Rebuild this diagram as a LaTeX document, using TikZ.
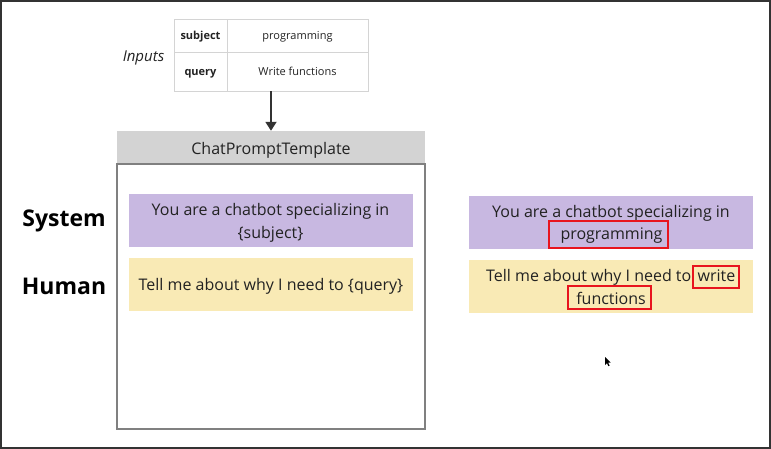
\documentclass[tikz,border=0pt]{standalone}
\usepackage{fontspec}
\setmainfont{Open Sans}
\usetikzlibrary{arrows.meta}
\definecolor{txt}{HTML}{222222}
\definecolor{frame}{HTML}{333333}
\definecolor{tblline}{HTML}{D4D4D4}
\definecolor{hdrgray}{HTML}{D3D3D3}
\definecolor{boxgray}{HTML}{808080}
\definecolor{sysfill}{HTML}{C8B8E1}
\definecolor{humfill}{HTML}{F9EAB5}
\definecolor{hlred}{HTML}{E8141E}
\tikzset{
  cell/.style={draw=tblline, line width=0.8pt, inner sep=0pt, text=txt, text height=9pt, text depth=0pt,
               font=\fontsize{11}{13}\selectfont},
  keycell/.style={cell, minimum width=53pt, font=\fontsize{11}{13}\selectfont\bfseries},
  valcell/.style={cell, minimum width=141pt},
  msgtext/.style={text=txt, font=\fontsize{16}{19}\selectfont, inner sep=0pt, anchor=base},
  rolelabel/.style={text=black, font=\fontsize{23}{27}\selectfont\bfseries, inner sep=0pt, anchor=base},
  sysbox/.style={fill=sysfill, inner sep=0pt, minimum width=284pt, minimum height=53pt},
  humbox/.style={fill=humfill, inner sep=0pt, minimum width=284pt, minimum height=53pt},
  hlbox/.style={draw=hlred, line width=1.8pt, inner sep=0pt},
}
\begin{document}
\begin{tikzpicture}[x=1pt,y=-1pt]
\useasboundingbox (0,0) rectangle (771,449);
% outer frame
\draw[frame, line width=1.6pt] (0.8,0.8) rectangle (769.8,448);

% inputs table
\node[keycell, minimum height=33pt] (k1) at (200.5,35.5) {subject};
\node[valcell, minimum height=33pt] (v1) at (297.5,35.5) {programming};
\node[keycell, minimum height=39pt] (k2) at (200.5,71.5) {query};
\node[valcell, minimum height=39pt] (v2) at (297.5,71.5) {Write functions};
\node[inner sep=0pt, minimum width=194pt, minimum height=72pt] (tbl) at (271,55) {};
\node[text=txt, font=\fontsize{15}{18}\selectfont\itshape, inner sep=0pt, anchor=base] (inp) at (143.5,61.5) {Inputs};

% template
\node[fill=hdrgray, inner sep=0pt, minimum width=308pt, minimum height=33pt] (hdr) at (271,147.5) {};
\node[msgtext] (hdrt) at (271,154.5) {ChatPromptTemplate};
\node[draw=boxgray, line width=1.6pt, inner sep=0pt, minimum width=308pt, minimum height=265pt] (body) at (271,296.5) {};
\draw[frame, line width=1.8pt, -{Triangle[length=9pt,width=11pt]}] (tbl.south) -- (hdr.north);

\node[sysbox] (sysL) at (271,220.8) {};
\node[msgtext] (sysLt1) at (270.5,216) {You are a chatbot specializing in};
\node[msgtext] (sysLt2) at (270.5,238.5) {\{subject\}};
\node[humbox] (humL) at (271,284.5) {};
\node[msgtext] (humLt) at (271,290.7) {Tell me about why I need to \{query\}};

\node[rolelabel] (sys) at (64,226.5) {System};
\node[rolelabel] (hum) at (64,294) {Human};

% filled prompt
\node[sysbox] (sysR) at (611,222.8) {};
\node[msgtext] (sysRt) at (611,217.5) {You are a chatbot specializing in};
\node[hlbox, minimum width=119pt, minimum height=27pt] (progbox) at (608.5,234.5) {};
\node[msgtext] (prog) at (611.5,240) {programming};
\node[humbox] (humR) at (611,286.3) {};
\node[msgtext, anchor=base east] (humRt) at (691.5,281.5) {Tell me about why I need to};
\node[hlbox, minimum width=46pt, minimum height=22pt] (wrbox) at (716,277) {};
\node[msgtext] (wr) at (716.5,281.5) {write};
\node[hlbox, minimum width=83pt, minimum height=23pt] (fnbox) at (609.5,297.5) {};
\node[msgtext] (fn) at (611,304) {functions};

% mouse cursor
\fill[black] (605,357) -- (605,365) -- (607,363.2) -- (608.4,366.2) -- (609.6,365.6) -- (608.2,362.7) -- (610.6,362.5) -- cycle;
\end{tikzpicture}
\end{document}
